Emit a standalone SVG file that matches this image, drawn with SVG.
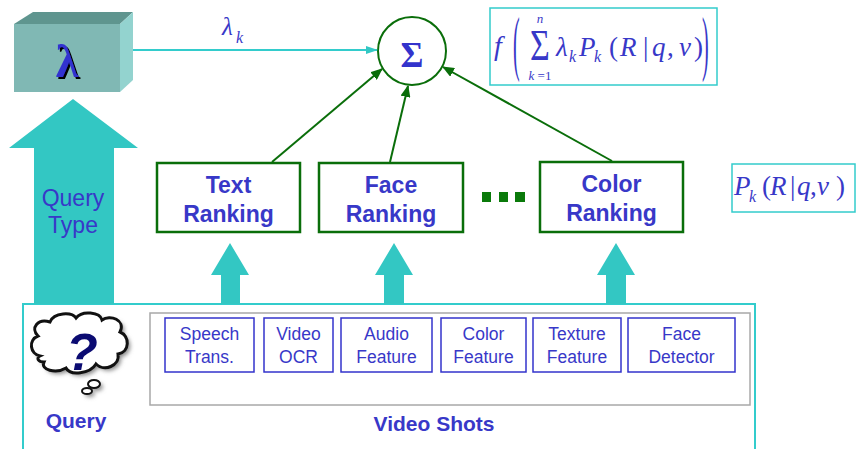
<svg xmlns="http://www.w3.org/2000/svg" width="857" height="449" viewBox="0 0 857 449">
  <defs>
    <style>
      .rank { fill: #ffffff; stroke: #0a6e0a; stroke-width: 2.5; }
      .rank-t { font-family: "Liberation Sans", Arial, sans-serif; font-weight: bold; font-size: 23px; fill: #3838c8; text-anchor: middle; }
      .feat { fill: #ffffff; stroke: #3333cc; stroke-width: 1.5; }
      .feat-t { font-family: "Liberation Sans", Arial, sans-serif; font-size: 17.5px; fill: #3838c8; text-anchor: middle; }
      .math { font-family: "Liberation Serif", "Times New Roman", serif; fill: #3838c8; }
      .it { font-style: italic; }
      .teal { fill: #33c7c3; }
      .green-line { stroke: #0a6e0a; stroke-width: 2; fill: none; marker-end: url(#greenHead); }
      .label-b { font-family: "Liberation Sans", Arial, sans-serif; font-weight: bold; fill: #3838c8; text-anchor: middle; }
    </style>
    <marker id="greenHead" viewBox="0 0 12 10" refX="11" refY="5" markerWidth="12" markerHeight="10" markerUnits="userSpaceOnUse" orient="auto">
      <path d="M0,0 L12,5 L0,10 Z" fill="#0a6e0a"/>
    </marker>
    <marker id="tealHead" viewBox="0 0 12 8" refX="11" refY="4" markerWidth="12" markerHeight="8" markerUnits="userSpaceOnUse" orient="auto">
      <path d="M0,0 L12,4 L0,8 Z" fill="#33c7c3"/>
    </marker>
    <filter id="soft" x="-20%" y="-20%" width="140%" height="140%">
      <feGaussianBlur stdDeviation="2"/>
    </filter>
    <!-- hard black drop shadow for the lambda glyph -->
    <filter id="dropShadow" x="-20%" y="-20%" width="150%" height="150%">
      <feOffset in="SourceAlpha" dx="2" dy="2" result="off"/>
      <feFlood flood-color="#000000"/>
      <feComposite in2="off" operator="in" result="shadow"/>
      <feMerge>
        <feMergeNode in="shadow"/>
        <feMergeNode in="SourceGraphic"/>
      </feMerge>
    </filter>
  </defs>

  <!-- outer container for the query / video shots area -->
  <g id="container">
    <path d="M23,460 L23,304 L755,304 L755,460" fill="none" stroke="#33cccc" stroke-width="2"/>
    <rect x="150" y="313" width="600" height="92" fill="#ffffff" stroke="#a8a8a8" stroke-width="1.5"/>
    <text class="label-b" x="434" y="431" font-size="21">Video Shots</text>
  </g>

  <!-- Query Type arrow -->
  <g id="query-type">
    <polygon class="teal" points="73,99 138,148 114,148 114,304 34,304 34,148 9,148"/>
    <text x="73" y="206" font-family="Liberation Sans, Arial, sans-serif" font-size="23" fill="#3838c8" text-anchor="middle">Query</text>
    <text x="73" y="233" font-family="Liberation Sans, Arial, sans-serif" font-size="23" fill="#3838c8" text-anchor="middle">Type</text>
  </g>

  <!-- lambda weight block -->
  <g id="lambda-box">
    <polygon points="14,24 33,12 133,12 120,24" fill="#5f958f"/>
    <polygon points="120,24 133,12 133,80 120,92" fill="#93d3cf"/>
    <rect x="14" y="24" width="106" height="68" fill="#80b8b4"/>
    <text x="67" y="77" font-family="Liberation Serif, serif" font-weight="bold" font-size="46" fill="#3333d0" text-anchor="middle" filter="url(#dropShadow)">λ</text>
  </g>

  <!-- summation node -->
  <g id="sum">
    <circle cx="412" cy="51" r="34" fill="#ffffff" stroke="#0a6e0a" stroke-width="2"/>
    <text x="412" y="67" font-family="Liberation Serif, serif" font-weight="bold" font-size="35" fill="#3333cc" text-anchor="middle">Σ</text>
  </g>

  <!-- fusion formula -->
  <g id="formula">
    <rect x="490" y="8" width="227" height="77" fill="#ffffff" stroke="#33cccc" stroke-width="1.5"/>
    <text class="math it" x="494" y="55" font-size="28">f</text>
    <text class="math" x="0" y="18.5" font-size="20" transform="translate(513,0) scale(1,3.6)">(</text>
    <text class="math" x="0" y="18.5" font-size="20" transform="translate(702,0) scale(1,3.6)">)</text>
    <text class="math" x="540" y="46.5" font-size="34" text-anchor="middle" transform="scale(1,1.3)">Σ</text>
    <text class="math it" x="540" y="23" font-size="13" text-anchor="middle">n</text>
    <text class="math" x="540" y="80" font-size="13" text-anchor="middle"><tspan class="it">k</tspan> =1</text>
    <text class="math it" x="556" y="56" font-size="27">λ</text>
    <text class="math it" x="569" y="62" font-size="16">k</text>
    <text class="math it" x="579" y="56" font-size="27">P</text>
    <text class="math it" x="594" y="62" font-size="16">k</text>
    <text class="math" x="609" y="56" font-size="27">(</text>
    <text class="math it" x="620" y="56" font-size="27">R</text>
    <text class="math" x="643" y="56" font-size="27">|</text>
    <text class="math it" x="652" y="56" font-size="27">q</text>
    <text class="math" x="667" y="56" font-size="27">,</text>
    <text class="math it" x="679" y="56" font-size="27">v</text>
    <text class="math" x="694" y="56" font-size="27">)</text>
  </g>

  <!-- per-ranker probability -->
  <g id="prob">
    <rect x="732" y="164" width="123" height="48" fill="#ffffff" stroke="#33cccc" stroke-width="1.5"/>
    <text class="math it" x="734" y="195" font-size="27">P</text>
    <text class="math it" x="749" y="202" font-size="16">k</text>
    <text class="math" x="762" y="195" font-size="27">(</text>
    <text class="math it" x="770" y="195" font-size="27">R</text>
    <text class="math" x="790" y="195" font-size="27">|</text>
    <text class="math it" x="797" y="195" font-size="27">q</text>
    <text class="math" x="810" y="195" font-size="27">,</text>
    <text class="math it" x="817" y="195" font-size="27">v</text>
    <text class="math" x="836" y="195" font-size="27">)</text>
  </g>

  <!-- rankers -->
  <g id="text-ranking">
    <rect class="rank" x="157" y="163" width="143" height="69"/>
    <text class="rank-t" x="228.5" y="193">Text</text>
    <text class="rank-t" x="228.5" y="222">Ranking</text>
  </g>
  <g id="face-ranking">
    <rect class="rank" x="319" y="163" width="144" height="69"/>
    <text class="rank-t" x="391" y="193">Face</text>
    <text class="rank-t" x="391" y="222">Ranking</text>
  </g>
  <g id="ellipsis">
    <rect x="482" y="192" width="9" height="10" fill="#0a7a0a"/>
    <rect x="499" y="192" width="9" height="10" fill="#0a7a0a"/>
    <rect x="515" y="192" width="10" height="10" fill="#0a7a0a"/>
  </g>
  <g id="color-ranking">
    <rect class="rank" x="540" y="162" width="143" height="70"/>
    <text class="rank-t" x="611.5" y="192">Color</text>
    <text class="rank-t" x="611.5" y="221">Ranking</text>
  </g>

  <!-- feature extractors -->
  <g id="speech">
    <rect class="feat" x="165" y="318" width="89" height="54"/>
    <text class="feat-t" x="209.5" y="340">Speech</text>
    <text class="feat-t" x="209.5" y="363">Trans.</text>
  </g>
  <g id="video-ocr">
    <rect class="feat" x="264" y="318" width="69" height="54"/>
    <text class="feat-t" x="298.5" y="340">Video</text>
    <text class="feat-t" x="298.5" y="363">OCR</text>
  </g>
  <g id="audio">
    <rect class="feat" x="341" y="318" width="91" height="54"/>
    <text class="feat-t" x="386.5" y="340">Audio</text>
    <text class="feat-t" x="386.5" y="363">Feature</text>
  </g>
  <g id="color-feature">
    <rect class="feat" x="441" y="318" width="85" height="54"/>
    <text class="feat-t" x="483.5" y="340">Color</text>
    <text class="feat-t" x="483.5" y="363">Feature</text>
  </g>
  <g id="texture">
    <rect class="feat" x="533" y="318" width="88" height="54"/>
    <text class="feat-t" x="577" y="340">Texture</text>
    <text class="feat-t" x="577" y="363">Feature</text>
  </g>
  <g id="face-detector">
    <rect class="feat" x="628" y="318" width="107" height="54"/>
    <text class="feat-t" x="681.5" y="340">Face</text>
    <text class="feat-t" x="681.5" y="363">Detector</text>
  </g>

  <!-- query thought cloud -->
  <g id="query">
    <g transform="translate(3,3)" filter="url(#soft)" fill="#8a8a8a">
      <path d="M40,356 C30,354 28,340 38,336 C30,328 38,318 50,322 C54,312 72,312 76,318 C82,310 100,312 102,320 C110,314 126,320 120,332 C130,336 130,352 118,354 C120,366 104,372 96,364 C90,374 70,376 66,368 C56,374 40,370 44,362 C38,362 36,358 40,356 Z"/>
      <ellipse cx="94" cy="384" rx="6" ry="4"/>
      <ellipse cx="87" cy="391" rx="5" ry="3"/>
    </g>
    <path d="M40,356 C30,354 28,340 38,336 C30,328 38,318 50,322 C54,312 72,312 76,318 C82,310 100,312 102,320 C110,314 126,320 120,332 C130,336 130,352 118,354 C120,366 104,372 96,364 C90,374 70,376 66,368 C56,374 40,370 44,362 C38,362 36,358 40,356 Z" fill="#ffffff" stroke="#111111" stroke-width="3"/>
    <ellipse cx="94" cy="384" rx="6" ry="4" fill="#ffffff" stroke="#111111" stroke-width="2"/>
    <ellipse cx="87" cy="391" rx="5" ry="3" fill="#ffffff" stroke="#111111" stroke-width="2"/>
    <text x="82" y="370" font-family="Liberation Sans, Arial, sans-serif" font-weight="bold" font-style="italic" font-size="52" fill="#0b0b72" text-anchor="middle">?</text>
    <text class="label-b" x="76" y="428" font-size="21">Query</text>
  </g>

  <!-- connectors -->
  <g id="connectors">
    <line x1="133" y1="50" x2="377" y2="50" stroke="#33cccc" stroke-width="2" marker-end="url(#tealHead)"/>
    <polygon class="teal" points="230,243 249,275 240,275 240,304 221,304 221,275 211,275"/>
    <polygon class="teal" points="394,243 413,275 404,275 404,304 384,304 384,275 375,275"/>
    <polygon class="teal" points="616,243 635,275 626,275 626,304 606,304 606,275 597,275"/>
    <line class="green-line" x1="272" y1="162" x2="382" y2="69"/>
    <line class="green-line" x1="390" y1="162" x2="408" y2="86"/>
    <line class="green-line" x1="612" y1="161" x2="443" y2="67"/>
  </g>

  <!-- weight label on the lambda link -->
  <g id="lambda-label">
    <text class="math it" x="222" y="35" font-size="25">λ</text>
    <text class="math it" x="236" y="43" font-size="16">k</text>
  </g>
</svg>
